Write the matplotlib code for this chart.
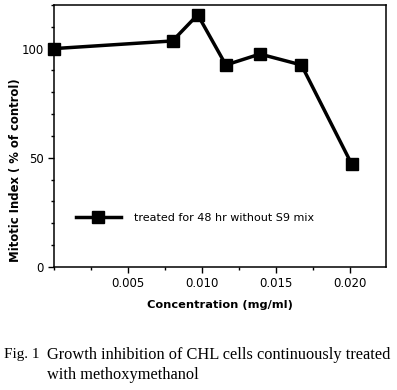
import matplotlib
matplotlib.use("Agg")
from matplotlib import pyplot as plt
from matplotlib.ticker import MultipleLocator
import numpy as np

# concentration (mg/ml) and mitotic index (% of control)
conc = [0.0, 0.0080, 0.0097, 0.0116, 0.0139, 0.0167, 0.0201]
mitotic = [100, 103.5, 115.5, 92.5, 97.5, 92.5, 47]
series_label = "treated for 48 hr without S9 mix"
xtick_vals = [0.005, 0.010, 0.015, 0.020]
xtick_labels = ["0.005", "0.010", "0.015", "0.020"]
ytick_vals = [0, 50, 100]

fig = plt.figure(figsize=(3.97, 3.90), dpi=100)
ax = fig.add_axes([0.136, 0.3154, 0.836, 0.672])

ax.plot(conc, mitotic, color="black", lw=2.5, marker="s", markersize=9,
        label=series_label, clip_on=False, zorder=3)

ax.set_xlim(0, 0.0224)
ax.set_ylim(0, 120)
ax.set_xticks(xtick_vals, labels=xtick_labels)
ax.xaxis.set_minor_locator(MultipleLocator(0.0025))
ax.set_yticks(ytick_vals)
ax.yaxis.set_minor_locator(MultipleLocator(10))
ax.tick_params(which="major", direction="out", length=4, width=1, labelsize=8.5)
ax.tick_params(which="minor", direction="out", length=2.5, width=1)
for s in ax.spines.values():
    s.set_linewidth(1.1)

ax.set_xlabel("Concentration (mg/ml)", fontsize=8.2, fontweight="bold", labelpad=7)
ax.set_ylabel("Mitotic Index ( % of control)", fontsize=8.4, fontweight="bold")
ax.yaxis.set_label_coords(-0.095, 0.37)

ax.legend(loc="lower left", bbox_to_anchor=(0.035, 0.131), frameon=False,
          fontsize=8, handlelength=4.1, handletextpad=1.2)

cap = dict(family="Liberation Serif", fontsize=11.8, va="center")
fig.text(0.01, 0.09, "Fig. 1", family="Liberation Serif", fontsize=11, va="center")
fig.text(0.118, 0.09, "Growth inhibition of CHL cells continuously treated", **cap)
fig.text(0.118, 0.038, "with methoxymethanol", **cap)

fig.savefig("out.png", dpi=100)
